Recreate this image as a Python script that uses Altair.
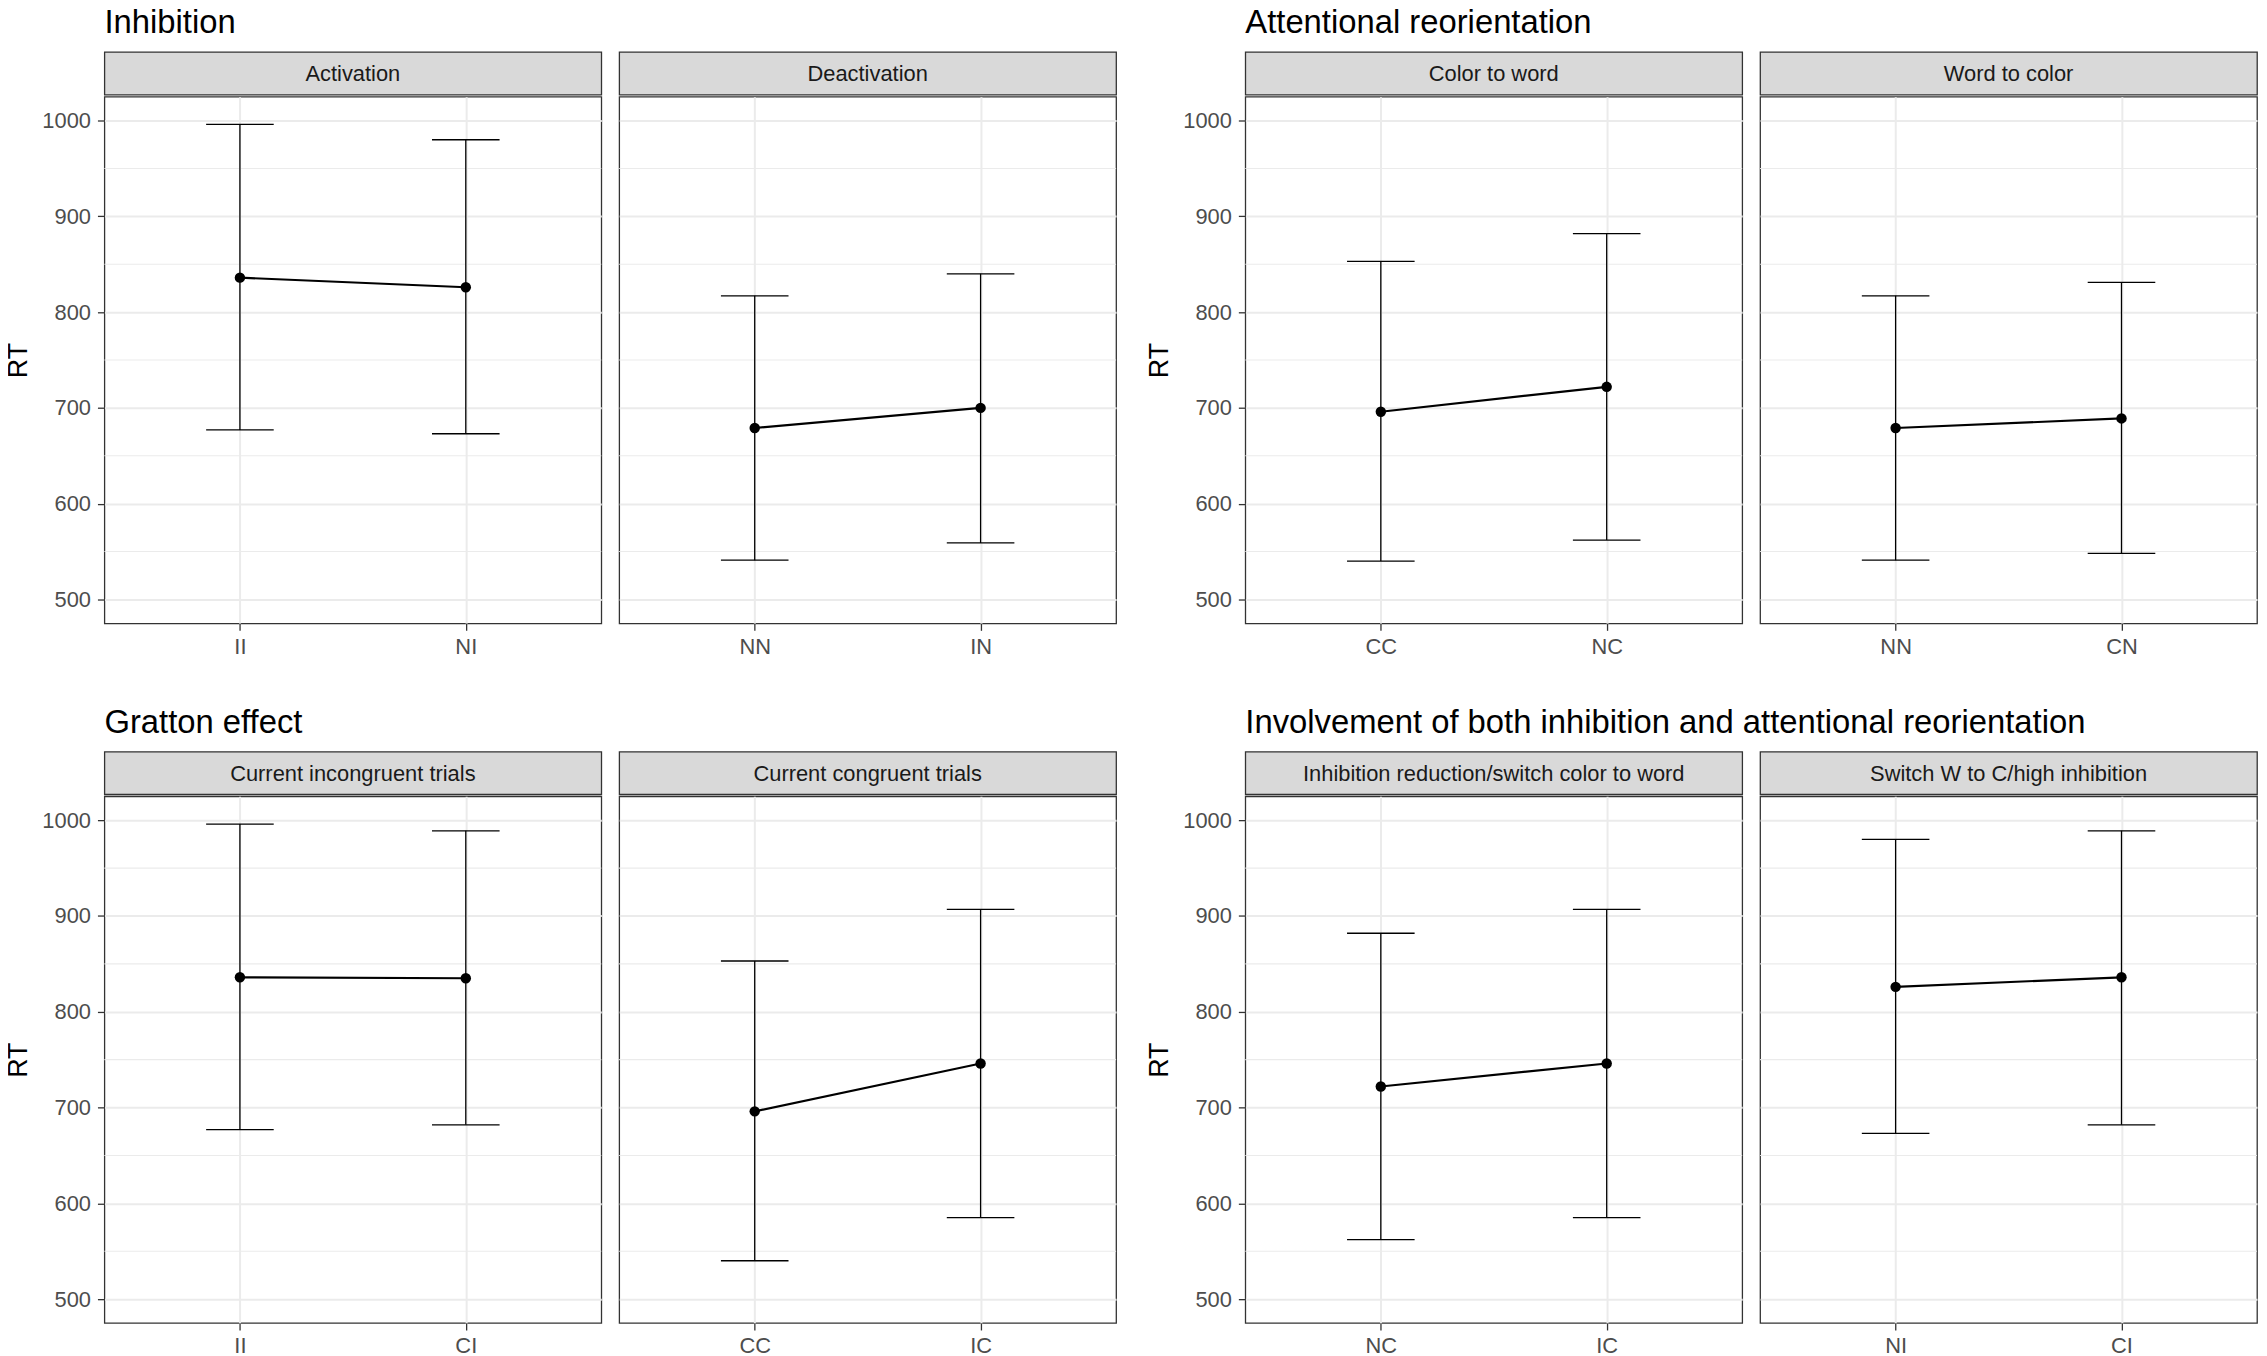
import altair as alt
import pandas as pd

FONT = "Liberation Sans"
W = 500      # panel width
SH = 43      # strip height
PH = 530     # plot height

group_titles = [
    "Inhibition",
    "Attentional reorientation",
    "Gratton effect",
    "Involvement of both inhibition and attentional reorientation",
]
panel_labels = [
    ["Activation", "Deactivation"],
    ["Color to word", "Word to color"],
    ["Current incongruent trials", "Current congruent trials"],
    ["Inhibition reduction/switch color to word", "Switch W to C/high inhibition"],
]
conditions = [
    [["II", "NI"], ["NN", "IN"]],
    [["CC", "NC"], ["NN", "CN"]],
    [["II", "CI"], ["CC", "IC"]],
    [["NC", "IC"], ["NI", "CI"]],
]
rt_mean = [
    [[836, 826], [679, 700]],
    [[696, 722], [679, 689]],
    [[836, 835], [696, 746]],
    [[722, 746], [826, 836]],
]
rt_low = [
    [[677, 673], [541, 559]],
    [[540, 562], [541, 548]],
    [[677, 682], [540, 585]],
    [[562, 585], [673, 682]],
]
rt_high = [
    [[996, 980], [817, 840]],
    [[853, 882], [817, 831]],
    [[996, 989], [853, 907]],
    [[882, 907], [980, 989]],
]
major_ticks = [500, 600, 700, 800, 900, 1000]
minor_ticks = [550, 650, 750, 850, 950]
y_domain = [475, 1025]


def strip_chart(label):
    df = pd.DataFrame({"label": [label]})
    return (
        alt.Chart(df)
        .mark_text(font=FONT, fontSize=22, color="#1a1a1a")
        .encode(text="label:N", x=alt.value(W / 2), y=alt.value(SH / 2 + 1))
        .properties(
            width=W,
            height=SH,
            view=alt.ViewBackground(fill="#d9d9d9", stroke="#333333", strokeWidth=1.3),
        )
    )


def plot_chart(conds, means, lows, highs, left):
    df = pd.DataFrame({"cond": conds, "mean": means, "lo": lows, "hi": highs})
    xenc = alt.X(
        "cond:N",
        scale=alt.Scale(type="point", domain=conds, padding=0.6),
        axis=alt.Axis(
            title=None, labelFont=FONT, labelFontSize=22, labelColor="#4d4d4d",
            labelAngle=0, tickSize=7, tickColor="#333333", tickWidth=1.3,
            domain=False, grid=True, gridColor="#ebebeb", gridWidth=2,
            labelPadding=6,
        ),
    )
    yscale = alt.Scale(domain=y_domain, nice=False, zero=False)
    if left:
        yaxis = alt.Axis(
            title="RT", values=major_ticks, format="d", labelFont=FONT,
            labelFontSize=22, labelColor="#4d4d4d", tickSize=7,
            tickColor="#333333", tickWidth=1.3, domain=False, grid=True,
            gridColor="#ebebeb", gridWidth=2, labelPadding=7, titleFont=FONT,
            titleFontSize=27, titleFontWeight="normal", titleColor="black",
            titlePadding=9,
        )
    else:
        yaxis = alt.Axis(
            title=None, values=major_ticks, labels=False, ticks=False,
            domain=False, grid=True, gridColor="#ebebeb", gridWidth=2,
        )
    base = alt.Chart(df)
    minor = (
        alt.Chart(pd.DataFrame({"v": minor_ticks}))
        .mark_rule(color="#ebebeb", strokeWidth=1.1)
        .encode(y=alt.Y("v:Q", scale=yscale, axis=yaxis))
    )
    bars = base.mark_rule(color="black", strokeWidth=1.3).encode(
        x=xenc, y=alt.Y("lo:Q", scale=yscale, axis=yaxis), y2="hi:Q"
    )
    cap_lo = base.mark_tick(color="black", size=68, thickness=1.3, opacity=1).encode(
        x=xenc, y=alt.Y("lo:Q", scale=yscale, axis=yaxis)
    )
    cap_hi = base.mark_tick(color="black", size=68, thickness=1.3, opacity=1).encode(
        x=xenc, y=alt.Y("hi:Q", scale=yscale, axis=yaxis)
    )
    line = base.mark_line(color="black", strokeWidth=2.2).encode(
        x=xenc, y=alt.Y("mean:Q", scale=yscale, axis=yaxis)
    )
    pts = base.mark_circle(color="black", opacity=1, size=110).encode(
        x=xenc, y=alt.Y("mean:Q", scale=yscale, axis=yaxis)
    )
    return alt.layer(minor, bars, cap_lo, cap_hi, line, pts).properties(width=W, height=PH)


def group(i):
    cols = []
    for j in range(2):
        s = strip_chart(panel_labels[i][j])
        p = plot_chart(conditions[i][j], rt_mean[i][j], rt_low[i][j], rt_high[i][j], j == 0)
        cols.append(alt.vconcat(s, p, spacing=0))
    return alt.hconcat(
        *cols,
        spacing=14,
        title=alt.Title(
            group_titles[i], anchor="start", frame="group", font=FONT,
            fontSize=33, fontWeight="normal", color="black", offset=11,
        ),
    )


row1 = alt.hconcat(group(0), group(1), spacing=27)
row2 = alt.hconcat(group(2), group(3), spacing=27)
chart = (
    alt.vconcat(row1, row2, spacing=49)
    .properties(
        padding={"top": -5, "left": -4, "right": 0, "bottom": -4},
        background="white",
    )
    .configure_view(stroke="#333333", strokeWidth=1.3)
)

chart.save("out.html", embed_options={"renderer": "svg", "actions": False})
